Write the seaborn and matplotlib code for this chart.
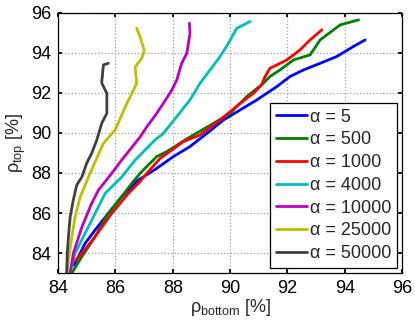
import matplotlib
matplotlib.use("Agg")
import matplotlib.pyplot as plt
import pandas as pd
import seaborn as sns

# curves (rho_bottom, rho_top) in %
alphas = [5, 500, 1000, 4000, 10000, 25000, 50000]
colors = ["#0000ff", "#008000", "#ff0000", "#00bfbf", "#bf00bf", "#bfbf00", "#404040"]

x_a5 = [84.55, 84.71, 84.94, 85.29, 85.75, 86.22, 86.80, 87.44, 88.02, 88.60, 89.19, 89.77, 90.35, 90.93, 91.63, 92.09, 92.56, 93.14, 93.72, 94.30, 94.71]
y_a5 = [83.40, 83.82, 84.48, 85.15, 85.98, 86.82, 87.65, 88.23, 88.82, 89.32, 89.98, 90.65, 91.15, 91.65, 92.32, 92.82, 93.15, 93.48, 93.82, 94.32, 94.65]

x_a500 = [84.48, 84.83, 85.29, 85.75, 86.22, 86.57, 86.86, 87.09, 87.44, 87.79, 88.60, 89.42, 90.00, 90.58, 91.16, 91.39, 91.74, 92.21, 92.79, 93.14, 93.84, 94.48]
y_a500 = [83.00, 83.82, 84.82, 85.98, 86.82, 87.48, 87.98, 88.32, 88.82, 89.07, 89.80, 90.48, 90.98, 91.82, 92.48, 92.82, 93.15, 93.65, 93.90, 94.65, 95.40, 95.65]

x_a1000 = [84.60, 84.83, 85.29, 85.87, 86.45, 86.86, 87.09, 87.56, 88.37, 88.95, 89.65, 90.35, 90.81, 91.10, 91.22, 91.39, 91.98, 92.44, 92.79, 93.20]
y_a1000 = [83.62, 83.98, 84.82, 85.98, 86.98, 87.57, 87.98, 88.73, 89.57, 89.90, 90.65, 91.48, 91.98, 92.40, 92.82, 93.23, 93.65, 94.15, 94.65, 95.15]

x_a4000 = [84.42, 84.59, 84.94, 85.29, 85.64, 86.22, 86.69, 86.98, 87.38, 87.67, 88.14, 88.60, 88.95, 89.30, 89.65, 89.94, 90.23, 90.70]
y_a4000 = [83.00, 83.98, 84.98, 85.98, 86.98, 87.80, 88.65, 89.07, 89.65, 89.98, 90.82, 91.65, 92.48, 93.15, 93.82, 94.48, 95.23, 95.57]

x_a10000 = [84.42, 84.53, 84.83, 85.17, 85.41, 85.87, 86.22, 86.86, 87.09, 87.44, 87.67, 87.97, 88.14, 88.31, 88.49, 88.60, 88.58]
y_a10000 = [83.00, 83.98, 85.30, 86.48, 87.15, 87.98, 88.65, 89.80, 90.30, 90.98, 91.48, 92.15, 92.65, 93.48, 93.98, 94.98, 95.48]

x_a25000 = [84.32, 84.36, 84.48, 84.59, 84.77, 85.06, 85.32, 85.58, 85.99, 86.22, 86.40, 86.63, 86.74, 86.69, 86.92, 87.00, 86.86, 86.74]
y_a25000 = [83.00, 83.65, 84.80, 85.80, 86.80, 87.80, 88.65, 89.48, 90.15, 90.90, 91.48, 92.15, 92.48, 93.30, 93.73, 94.15, 94.80, 95.23]

x_a50000 = [84.30, 84.32, 84.36, 84.42, 84.53, 84.65, 84.83, 85.00, 85.17, 85.35, 85.52, 85.70, 85.70, 85.52, 85.58, 85.75]
y_a50000 = [83.00, 83.98, 84.80, 85.80, 86.65, 87.40, 87.80, 88.50, 88.98, 89.65, 90.48, 90.98, 91.98, 92.50, 93.40, 93.48]

xs = [x_a5, x_a500, x_a1000, x_a4000, x_a10000, x_a25000, x_a50000]
ys = [y_a5, y_a500, y_a1000, y_a4000, y_a10000, y_a25000, y_a50000]

frames = []
for a, x, y in zip(alphas, xs, ys):
    frames.append(pd.DataFrame({"x": x, "y": y, "label": "α = %d" % a}))
df = pd.concat(frames, ignore_index=True)
labels = ["α = %d" % a for a in alphas]

sns.set_theme(style="whitegrid", rc={
    "grid.linestyle": ":", "grid.color": "#a0a0a0", "grid.linewidth": 0.9,
    "axes.edgecolor": "black", "axes.linewidth": 0.9,
    "xtick.direction": "in", "ytick.direction": "in",
    "xtick.bottom": True, "ytick.left": True, "xtick.top": True, "ytick.right": True,
    "xtick.major.size": 3, "ytick.major.size": 3,
    "xtick.color": "black", "ytick.color": "black",
})
plt.rcParams["font.family"] = ["Liberation Sans", "DejaVu Sans"]
plt.rcParams["mathtext.fontset"] = "custom"
plt.rcParams["mathtext.rm"] = "Liberation Sans"

fig = plt.figure(figsize=(4.15, 3.22), dpi=100)
ax = fig.add_axes([0.140, 0.152, 0.829, 0.808])
sns.lineplot(data=df, x="x", y="y", hue="label", hue_order=labels, palette=colors,
             sort=False, estimator=None, units="label", linewidth=2, ax=ax)

ax.set_xlim(84, 96)
ax.set_ylim(83, 96)
ax.set_xticks(range(84, 97, 2))
ax.set_yticks(range(84, 97, 2))
ax.tick_params(labelsize=13, pad=5)
ax.set_xlabel(r"$\mathregular{ρ_{bottom}}$ [%]", fontsize=13, labelpad=0)
ax.set_ylabel(r"$\mathregular{ρ_{top}}$ [%]", fontsize=13, labelpad=2)

leg = ax.legend(loc="lower right", fontsize=13, frameon=True, fancybox=False,
                edgecolor="black", framealpha=1, handlelength=1.75, handletextpad=0.15,
                labelspacing=0.32, borderpad=0.3, borderaxespad=0.3)
leg.get_frame().set_linewidth(0.9)

fig.savefig("out.png", dpi=100)
